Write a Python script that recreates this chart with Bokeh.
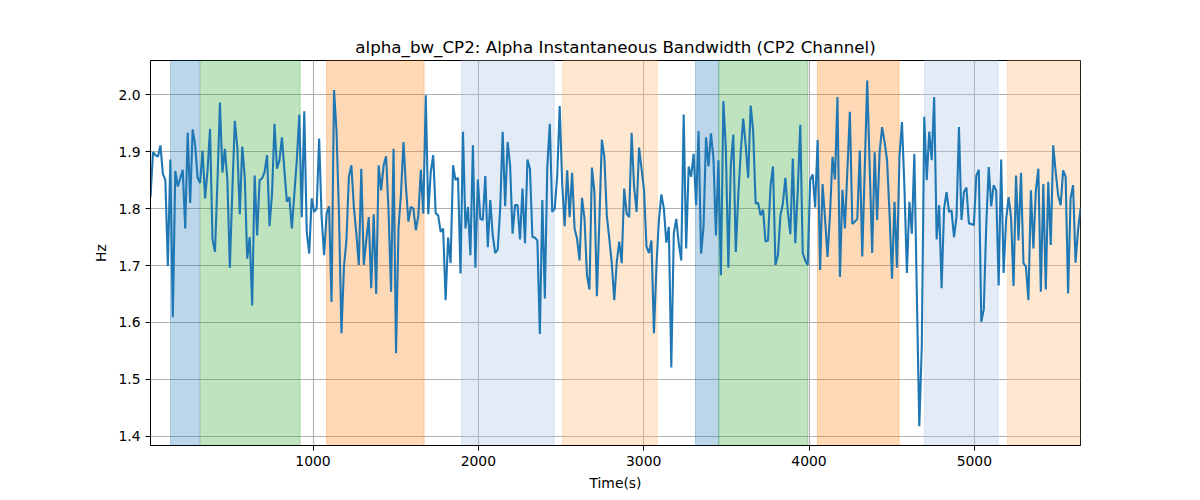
from bokeh.plotting import figure
from bokeh.models import Range1d, FixedTicker, BoxAnnotation, PrintfTickFormatter
from bokeh.embed import file_html
from bokeh.resources import INLINE

# ---------------- data ----------------
t_start = 17.0
t_step = 15.0

bandwidth_hz = [
    1.820, 1.899, 1.894, 1.891, 1.911, 1.861, 1.850, 1.699, 1.886, 1.609,
    1.866, 1.839, 1.853, 1.868, 1.765, 1.933, 1.810, 1.939, 1.911, 1.854,
    1.845, 1.902, 1.818, 1.867, 1.940, 1.746, 1.724, 1.847, 1.986, 1.863,
    1.905, 1.850, 1.696, 1.832, 1.954, 1.908, 1.790, 1.909, 1.856, 1.712,
    1.750, 1.630, 1.858, 1.753, 1.850, 1.853, 1.864, 1.894, 1.769, 1.826,
    1.949, 1.870, 1.885, 1.925, 1.867, 1.812, 1.820, 1.765, 1.826, 1.885,
    1.965, 1.785, 1.971, 1.759,
    1.721, 1.818, 1.794, 1.800, 1.923, 1.785, 1.718, 1.791, 1.804, 1.636,
    2.008, 1.937, 1.791, 1.581, 1.698, 1.744, 1.856, 1.876, 1.803, 1.756,
    1.701, 1.870, 1.701, 1.744, 1.785, 1.660, 1.790, 1.650, 1.876, 1.832,
    1.876, 1.892, 1.794, 1.654, 1.905, 1.546, 1.765, 1.826, 1.917, 1.838,
    1.777, 1.803, 1.800, 1.762, 1.788, 1.868, 1.791, 1.999, 1.790, 1.864,
    1.894, 1.792, 1.788, 1.759, 1.765, 1.639, 1.749, 1.704, 1.876, 1.850,
    1.854, 1.686,
    1.935, 1.765, 1.803, 1.718, 1.911, 1.696, 1.851, 1.782, 1.780, 1.857,
    1.732, 1.815, 1.753, 1.722, 1.728, 1.800, 1.935, 1.804, 1.917, 1.876,
    1.756, 1.806, 1.806, 1.746, 1.835, 1.739, 1.886, 1.870, 1.750, 1.749,
    1.744, 1.580, 1.815, 1.642, 1.873, 1.949, 1.794, 1.800, 1.858, 1.980,
    1.844, 1.769, 1.867, 1.785, 1.863, 1.765, 1.747, 1.709, 1.819, 1.782,
    1.683, 1.658, 1.872, 1.829, 1.646, 1.780, 1.921, 1.891, 1.788, 1.747,
    1.704, 1.639,
    1.706, 1.742, 1.704, 1.835, 1.791, 1.785, 1.933, 1.838, 1.794, 1.907,
    1.870, 1.832, 1.733, 1.722, 1.744, 1.581, 1.698, 1.780, 1.825, 1.800,
    1.740, 1.768, 1.521, 1.756, 1.782, 1.739, 1.709, 1.965, 1.730, 1.874,
    1.856, 1.896, 1.806, 1.936, 1.721, 1.768, 1.925, 1.874, 1.932, 1.888,
    1.753, 1.885, 1.683, 1.989, 1.905, 1.696, 1.876, 1.930, 1.724, 1.823,
    1.899, 1.958, 1.911, 1.854, 1.981, 1.937, 1.809, 1.810, 1.788, 1.798,
    1.742, 1.744, 1.839,
    1.874, 1.701, 1.718, 1.788, 1.809, 1.854, 1.794, 1.755, 1.888, 1.739,
    1.832, 1.947, 1.722, 1.709, 1.701, 1.850, 1.860, 1.802, 1.921, 1.692,
    1.843, 1.782, 1.715, 1.791, 1.891, 1.851, 1.996, 1.680, 1.833, 1.765,
    1.867, 1.970, 1.773, 1.777, 1.782, 1.902, 1.716, 1.870, 2.025, 1.873,
    1.722, 1.899, 1.780, 1.899, 1.943, 1.917, 1.885, 1.791, 1.677, 1.812,
    1.696, 1.891, 1.952, 1.838, 1.687, 1.812, 1.756, 1.896, 1.651, 1.418,
    1.557, 1.961,
    1.850, 1.935, 1.885, 1.996, 1.746, 1.806, 1.660, 1.800, 1.829, 1.794,
    1.797, 1.750, 1.785, 1.943, 1.780, 1.829, 1.837, 1.774, 1.773, 1.771,
    1.858, 1.868, 1.601, 1.623, 1.771, 1.873, 1.804, 1.841, 1.832, 1.665,
    1.886, 1.687, 1.780, 1.820, 1.785, 1.664, 1.858, 1.744, 1.863, 1.704,
    1.698, 1.639, 1.832, 1.730, 1.832, 1.870, 1.654, 1.843, 1.658, 1.847,
    1.736, 1.911, 1.864, 1.823, 1.806, 1.867, 1.856, 1.651, 1.818, 1.841,
    1.705, 1.762, 1.800,
]
time_s = [t_start + t_step * i for i in range(len(bandwidth_hz))]

span_start = [138, 319, 1082, 1898, 2509, 3313, 3454, 4051, 4698, 5200]
span_end = [313, 922, 1672, 2459, 3082, 3454, 3993, 4545, 5144, 5700]
span_kind = ["blue", "green", "orange", "lightblue", "lightorange",
             "blue", "green", "orange", "lightblue", "lightorange"]

x_ticks = [1000, 2000, 3000, 4000, 5000]
y_ticks = [1.4, 1.5, 1.6, 1.7, 1.8, 1.9, 2.0]

# ---------------- styles ----------------
kind_style = {
    "blue": ("#1f77b4", 0.3),
    "green": ("#2ca02c", 0.3),
    "orange": ("#ff7f0e", 0.3),
    "lightblue": ("#aec7e8", 0.35),
    "lightorange": ("#ffbb78", 0.35),
}
FONT = "DejaVu Sans"

p = figure(
    width=1192, height=492,
    frame_width=930, frame_height=385,
    x_range=Range1d(time_s[0], time_s[-1]),
    y_range=Range1d(1.384, 2.060),
    output_backend="svg", toolbar_location=None,
    title="alpha_bw_CP2: Alpha Instantaneous Bandwidth (CP2 Channel)",
)
p.min_border_left = 150
p.min_border_right = 112
p.min_border_top = 60
p.min_border_bottom = 47
p.background_fill_color = "white"
p.border_fill_color = "white"
p.outline_line_color = "black"
p.outline_line_width = 1
p.outline_line_alpha = 1

p.title.align = "center"
p.title.text_font = FONT
p.title.text_font_size = "16.7px"
p.title.text_font_style = "normal"
p.title.text_color = "black"
p.title.standoff = 8

for s, e, k in zip(span_start, span_end, span_kind):
    c, a = kind_style[k]
    p.add_layout(BoxAnnotation(left=s, right=e, fill_color=c, fill_alpha=a,
                               line_color=c, line_alpha=a, line_width=1,
                               level="underlay"))

p.line(time_s, bandwidth_hz, line_color="#1f77b4", line_width=2.1)

p.xaxis.ticker = FixedTicker(ticks=x_ticks)
p.yaxis.ticker = FixedTicker(ticks=y_ticks)
p.yaxis.formatter = PrintfTickFormatter(format="%.1f")
p.xaxis.axis_label = "Time(s)"
p.yaxis.axis_label = "Hz"
for ax in (p.xaxis, p.yaxis):
    ax.axis_label_text_font = FONT
    ax.axis_label_text_font_size = "13.9px"
    ax.axis_label_text_font_style = "normal"
    ax.axis_label_text_color = "black"
    ax.major_label_text_font = FONT
    ax.major_label_text_font_size = "13.9px"
    ax.major_label_text_color = "black"
    ax.major_tick_out = 5
    ax.major_tick_in = 0
    ax.minor_tick_out = 0
    ax.minor_tick_in = 0
    ax.major_tick_line_color = "black"
    ax.axis_line_color = "black"
    ax.major_label_standoff = 5
    ax.axis_label_standoff = 6

p.grid.grid_line_color = "#b0b0b0"
p.grid.grid_line_width = 1.1

open("out.html", "w").write(file_html(p, INLINE))
